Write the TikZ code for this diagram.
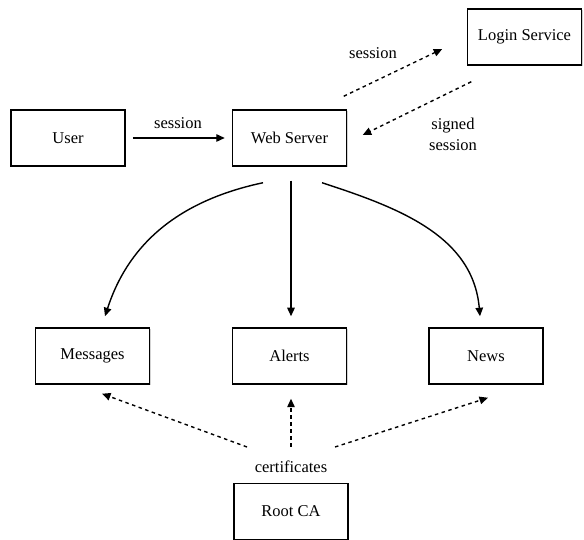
\documentclass[tikz,border=0pt]{standalone}
\usepackage{fontspec}
\setmainfont{Liberation Serif}
\usetikzlibrary{positioning, arrows.meta, calc, shadows}
\tikzset{
  box/.style={draw, line width=1.5pt, fill=white, minimum width=114pt, minimum height=56pt,
    font=\fontsize{16.5}{19}\selectfont,
    drop shadow={shadow xshift=1.2pt, shadow yshift=-1.2pt, opacity=0.35}},
  lbl/.style={font=\fontsize{16.5}{21}\selectfont, align=center, inner sep=1pt},
  arr/.style={-{Triangle[length=8.5pt,width=7.5pt]}, line width=1.4pt},
  darr/.style={arr, dash pattern=on 3.5pt off 3.5pt},
}
\begin{document}
\begin{tikzpicture}[x=1pt,y=1pt]
\useasboundingbox (0,0) rectangle (584,540);
\node[box] (user) at (68,402) {User};
\node[box] (web) at (289.5,402) {Web Server};
\node[box] (login) at (524.5,503) {Login Service};
\node[box] (msg) at (92.5,184) {Messages};
\node[box] (alerts) at (289.5,184) {Alerts};
\node[box] (news) at (486,184) {News};
\node[box] (root) at (291,28.5) {Root CA};
\node[lbl] (sess1) at (178,417) {session};
\node[lbl] (sess2) at (373,487) {session};
\node[lbl] (signed) at (453,406) {signed\\session};
\node[lbl] (cert) at (291,73) {certificates};
\draw[arr, shorten <=7pt, shorten >=7pt] (user.east) -- (web.west);
\draw[darr] ($(web.north east)+(-3.5,13)$) -- ($(login.west)+(-24.5,-12)$);
\draw[darr] ($(login.south west)+(4.5,-16)$) -- ($(web.east)+(15.5,3)$);
\draw[arr] ($(web.south)+(-26.5,-16)$) to[out=192,in=72] ($(msg.north)+(12.5,11)$);
\draw[arr] ($(web.south)+(1.5,-14)$) -- ($(alerts.north)+(1.5,11)$);
\draw[arr] ($(web.south)+(32.5,-16)$) to[out=-18,in=95] ($(news.north)+(-6,11)$);
\draw[darr] ($(cert.center)+(-44,20)$) -- ($(msg.south)+(9.5,-9)$);
\draw[darr] ($(cert.center)+(0,20)$) -- ($(alerts.south)+(1.5,-14)$);
\draw[darr] ($(cert.center)+(44,20)$) -- ($(news.south)+(2,-13)$);
\end{tikzpicture}
\end{document}
